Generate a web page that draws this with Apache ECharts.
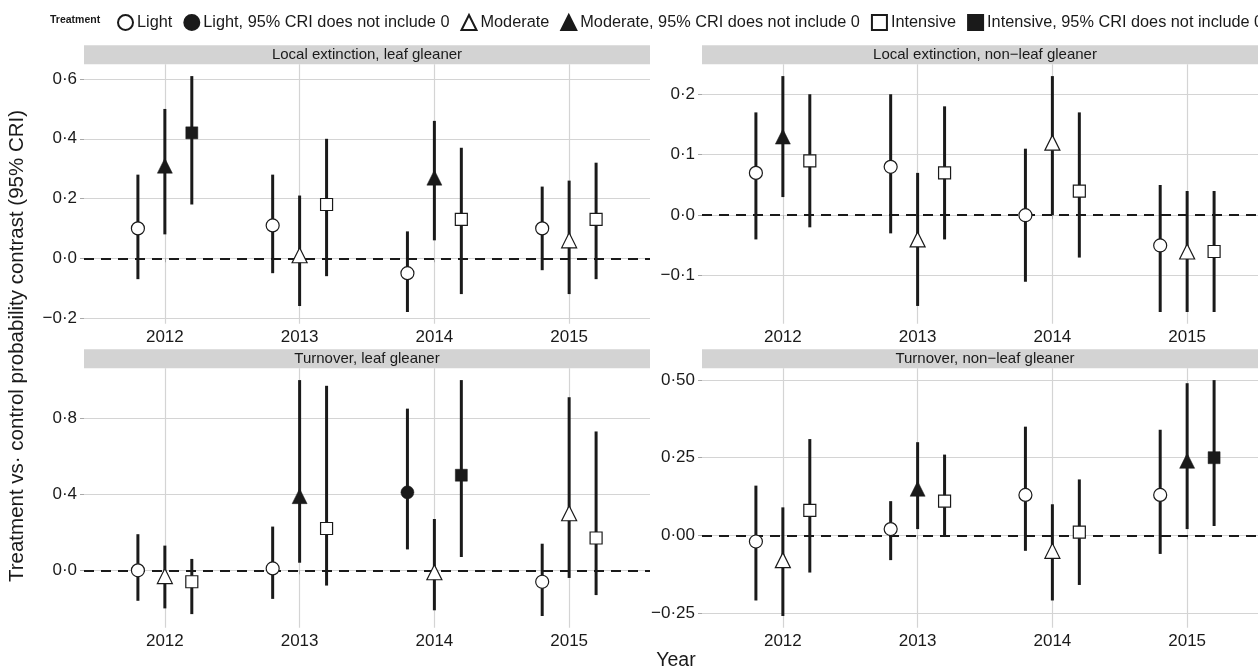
<!DOCTYPE html>
<html><head><meta charset="utf-8">
<script src="https://cdn.jsdelivr.net/npm/echarts@6/dist/echarts.min.js"></script>
<style>html,body{margin:0;padding:0;background:#fff}#c{width:1258px;height:671px}</style>
</head><body><div id="c"></div>
<script>
// ---------------- DATA ----------------
const years = [2012, 2013, 2014, 2015];
const treatments = ['Light', 'Moderate', 'Intensive'];
const sigSuffix = ', 95% CRI does not include 0';
const panelTitles = ['Local extinction, leaf gleaner', 'Local extinction, non\u2212leaf gleaner',
                     'Turnover, leaf gleaner', 'Turnover, non\u2212leaf gleaner'];

// rows: Light, Moderate, Intensive; columns: 2012..2015
const extLeafEst = [[0.10, 0.11, -0.05, 0.10], [0.31, 0.01, 0.27, 0.06], [0.42, 0.18, 0.13, 0.13]];
const extLeafLo  = [[-0.07, -0.05, -0.18, -0.04], [0.08, -0.16, 0.06, -0.12], [0.18, -0.06, -0.12, -0.07]];
const extLeafHi  = [[0.28, 0.28, 0.09, 0.24], [0.50, 0.21, 0.46, 0.26], [0.61, 0.40, 0.37, 0.32]];

const extNonEst = [[0.07, 0.08, 0.00, -0.05], [0.13, -0.04, 0.12, -0.06], [0.09, 0.07, 0.04, -0.06]];
const extNonLo  = [[-0.04, -0.03, -0.11, -0.16], [0.03, -0.15, 0.00, -0.16], [-0.02, -0.04, -0.07, -0.16]];
const extNonHi  = [[0.17, 0.20, 0.11, 0.05], [0.23, 0.07, 0.23, 0.04], [0.20, 0.18, 0.17, 0.04]];

const turnLeafEst = [[0.00, 0.01, 0.41, -0.06], [-0.03, 0.39, -0.01, 0.30], [-0.06, 0.22, 0.50, 0.17]];
const turnLeafLo  = [[-0.16, -0.15, 0.11, -0.24], [-0.20, 0.04, -0.21, -0.04], [-0.23, -0.08, 0.07, -0.13]];
const turnLeafHi  = [[0.19, 0.23, 0.85, 0.14], [0.13, 1.00, 0.27, 0.91], [0.06, 0.97, 1.00, 0.73]];

const turnNonEst = [[-0.02, 0.02, 0.13, 0.13], [-0.08, 0.15, -0.05, 0.24], [0.08, 0.11, 0.01, 0.25]];
const turnNonLo  = [[-0.21, -0.08, -0.05, -0.06], [-0.26, 0.02, -0.21, 0.02], [-0.12, 0.00, -0.16, 0.03]];
const turnNonHi  = [[0.16, 0.11, 0.35, 0.34], [0.09, 0.30, 0.10, 0.49], [0.31, 0.26, 0.18, 0.50]];

const yTicksExtLeaf = [-0.2, 0, 0.2, 0.4, 0.6];
const yTicksExtNon = [-0.1, 0, 0.1, 0.2];
const yTicksTurnLeaf = [0, 0.4, 0.8];
const yTicksTurnNon = [-0.25, 0, 0.25, 0.5];
const yDecimals = [1, 1, 1, 2];

// ---------------- LAYOUT / STYLE ----------------
const FONT = 'Liberation Sans, Arial, Helvetica, sans-serif';
const INK = '#1a1a1a';
const GRID_COLOR = '#d4d4d4';
const panelW = 566, panelH = 259.5, stripH = 19;
const colLeft = [84, 702];
const rowTop = [64.3, 368.3];
const dodge = [-0.2, 0, 0.2];
const symbols = ['circle', 'triangle', 'rect'];
const symbolSizes = [13, 15, 12];

const panels = [
  {est: extLeafEst, lo: extLeafLo, hi: extLeafHi, ticks: yTicksExtLeaf},
  {est: extNonEst, lo: extNonLo, hi: extNonHi, ticks: yTicksExtNon},
  {est: turnLeafEst, lo: turnLeafLo, hi: turnLeafHi, ticks: yTicksTurnLeaf},
  {est: turnNonEst, lo: turnNonLo, hi: turnNonHi, ticks: yTicksTurnNon}
];

function fmt(v, d) {
  return v.toFixed(d).replace('.', '\u00b7').replace('-', '\u2212');
}

const grids = [], xAxes = [], yAxes = [], series = [], graphics = [];

panels.forEach((p, i) => {
  const left = colLeft[i % 2], top = rowTop[Math.floor(i / 2)];
  grids.push({left: left, top: top, width: panelW, height: panelH, containLabel: false, outerBoundsMode: 'none'});
  // data extent with ggplot-like 5% expansion
  const allLo = Math.min(...p.lo.flat()), allHi = Math.max(...p.hi.flat());
  const pad = (allHi - allLo) * 0.05;
  xAxes.push({
    type: 'value', gridIndex: i, min: years[0] - 0.6, max: years[years.length - 1] + 0.6,
    axisLine: {show: false},
    axisTick: {show: true, length: 4, customValues: years, lineStyle: {color: '#a8a8a8', width: 1}},
    axisLabel: {customValues: years, margin: 5, fontSize: 17, color: INK, fontFamily: FONT, formatter: v => String(v)},
    splitLine: {show: true, lineStyle: {color: GRID_COLOR, width: 1.2}}
  });
  const d = yDecimals[i];
  yAxes.push({
    type: 'value', gridIndex: i, min: allLo - pad, max: allHi + pad,
    axisLine: {show: false},
    axisTick: {show: true, length: 4, customValues: p.ticks, lineStyle: {color: '#a8a8a8', width: 1}},
    axisLabel: {customValues: p.ticks, margin: 7, fontSize: 17, color: INK, fontFamily: FONT, formatter: v => fmt(v, d)},
    splitLine: {show: true, lineStyle: {color: GRID_COLOR, width: 1.2}}
  });
  // error bars
  const bars = [];
  treatments.forEach((t, ti) => years.forEach((y, yi) => {
    bars.push([y + dodge[ti], p.lo[ti][yi], p.hi[ti][yi]]);
  }));
  series.push({
    type: 'custom', xAxisIndex: i, yAxisIndex: i, silent: true, z: 3,
    data: bars,
    encode: {x: 0, y: [1, 2]},
    renderItem: (params, api) => {
      const a = api.coord([api.value(0), api.value(1)]);
      const b = api.coord([api.value(0), api.value(2)]);
      return {type: 'line', shape: {x1: a[0], y1: a[1], x2: b[0], y2: b[1]},
              style: {stroke: INK, lineWidth: 3}};
    },
    markLine: {
      silent: true, symbol: 'none', z: 2,
      label: {show: false},
      lineStyle: {type: [10, 7], color: INK, width: 2.2},
      data: [{yAxis: 0}]
    }
  });
  // points: open (CRI includes 0) and filled (CRI excludes 0)
  treatments.forEach((t, ti) => {
    [false, true].forEach(sig => {
      const pts = [];
      years.forEach((y, yi) => {
        const excl = p.lo[ti][yi] > 0 || p.hi[ti][yi] < 0;
        if (excl === sig) pts.push([y + dodge[ti], p.est[ti][yi]]);
      });
      series.push({
        type: 'scatter', name: t + (sig ? sigSuffix : ''), xAxisIndex: i, yAxisIndex: i, z: 5,
        symbol: symbols[ti], symbolSize: symbolSizes[ti],
        itemStyle: {color: sig ? INK : '#ffffff', borderColor: INK, borderWidth: sig ? 0.5 : 1.2, opacity: 1},
        emphasis: {disabled: true},
        data: pts
      });
    });
  });
  // strip
  graphics.push({type: 'rect', silent: true, shape: {x: left, y: top - stripH, width: panelW, height: stripH},
                 style: {fill: '#d3d3d3'}});
  graphics.push({type: 'text', silent: true, x: left + panelW / 2, y: top - stripH / 2,
                 style: {text: panelTitles[i], fontSize: 15, fontFamily: FONT, fill: INK, align: 'center', verticalAlign: 'middle'}});
});

graphics.push({type: 'text', silent: true, x: 17, y: 346, rotation: Math.PI / 2,
  style: {text: 'Treatment vs\u00b7 control probability contrast (95% CRI)', fontSize: 20.5, fontFamily: FONT,
          fill: INK, align: 'center', verticalAlign: 'middle'}});
graphics.push({type: 'text', silent: true, x: 676, y: 661,
  style: {text: 'Year', fontSize: 19.5, fontFamily: FONT, fill: INK, align: 'center', verticalAlign: 'middle'}});
graphics.push({type: 'text', silent: true, x: 50, y: 20,
  style: {text: 'Treatment', fontSize: 10.5, fontWeight: 'bold', fontFamily: FONT, fill: INK, align: 'left', verticalAlign: 'middle'}});

const legendData = [];
treatments.forEach((t, ti) => {
  legendData.push({name: t, icon: symbols[ti]});
  legendData.push({name: t + sigSuffix, icon: symbols[ti]});
});

const chart = echarts.init(document.getElementById('c'), null, {renderer: 'canvas'});
chart.setOption({
  animation: false,
  backgroundColor: '#ffffff',
  textStyle: {fontFamily: FONT},
  legend: {
    type: 'plain', orient: 'horizontal', left: 112, top: 9, width: 2000,
    itemWidth: 15, itemHeight: 15, itemGap: 11, selectedMode: false,
    textStyle: {fontSize: 16.3, color: INK, fontFamily: FONT, padding: [0, 0, 0, -1]},
    data: legendData
  },
  grid: grids, xAxis: xAxes, yAxis: yAxes, series: series, graphic: graphics
});
</script></body></html>
